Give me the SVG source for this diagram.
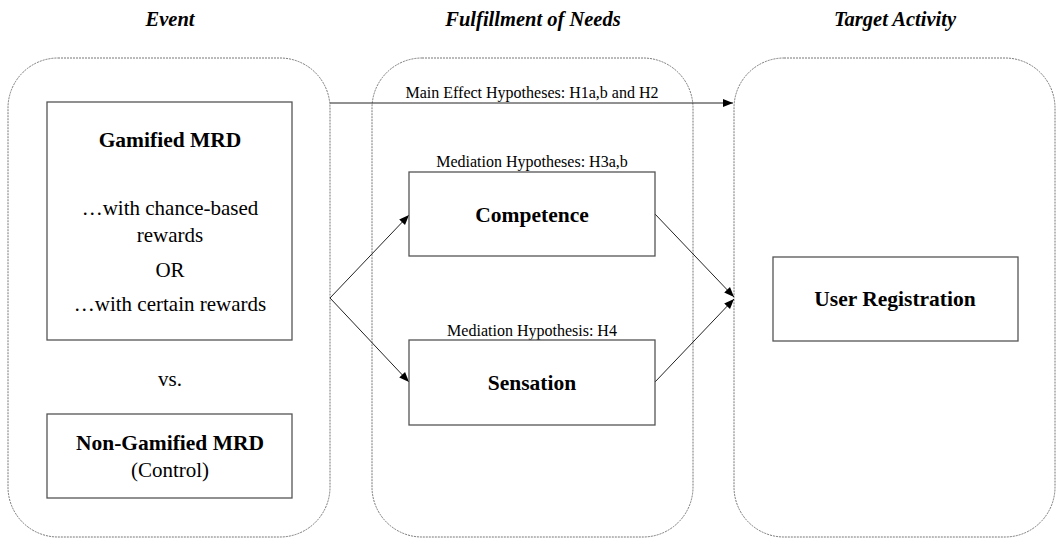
<svg xmlns="http://www.w3.org/2000/svg" width="1056" height="539" viewBox="0 0 1056 539">
<style>
.cont{fill:none;stroke:#777;stroke-width:1;stroke-dasharray:2 1}
.box{fill:#fff;stroke:#555;stroke-width:1.3}
.t{font-family:"Liberation Serif",serif;fill:#000;text-anchor:middle}
.h{font-weight:bold;font-style:italic;font-size:20.5px}
.b{font-weight:bold;font-size:21.5px}
.r{font-size:21px}
.s{font-size:16px}
.c{fill:none;stroke:#222;stroke-width:1}
</style>
<defs>
<marker id="ah" viewBox="0 0 10 10" refX="10" refY="5" markerWidth="10" markerHeight="10" markerUnits="userSpaceOnUse" orient="auto">
<path d="M0,1 L10,5 L0,9 z" fill="#000"/>
</marker>
</defs>
<g id="titles">
<text class="t h" x="170" y="26">Event</text>
<text class="t h" x="533" y="26">Fulfillment of Needs</text>
<text class="t h" x="895" y="26">Target Activity</text>
</g>
<g id="event-group">
<rect class="cont" x="8" y="58" width="322" height="479" rx="50" ry="50"/>
</g>
<g id="needs-group">
<rect class="cont" x="372" y="58" width="321" height="479" rx="50" ry="50"/>
</g>
<g id="target-group">
<rect class="cont" x="734" y="58" width="321" height="479" rx="50" ry="50"/>
</g>
<g id="connectors">
<line class="c" x1="330" y1="103" x2="733" y2="103" marker-end="url(#ah)"/>
<line class="c" x1="330" y1="298" x2="409" y2="215" marker-end="url(#ah)"/>
<line class="c" x1="330" y1="298" x2="409" y2="382" marker-end="url(#ah)"/>
<line class="c" x1="655" y1="214" x2="734" y2="297" marker-end="url(#ah)"/>
<line class="c" x1="655" y1="382" x2="734" y2="299" marker-end="url(#ah)"/>
<text class="t s" x="532" y="98">Main Effect Hypotheses: H1a,b and H2</text>
<text class="t s" x="532" y="167">Mediation Hypotheses: H3a,b</text>
<text class="t s" x="532" y="336">Mediation Hypothesis: H4</text>
</g>
<g id="gamified">
<rect class="box" x="47" y="102" width="245" height="238"/>
<text class="t b" x="170" y="147">Gamified MRD</text>
<text class="t r" x="170" y="215">…with chance-based</text>
<text class="t r" x="170" y="242">rewards</text>
<text class="t r" x="170" y="277">OR</text>
<text class="t r" x="170" y="311">…with certain rewards</text>
</g>
<g id="vs">
<text class="t r" x="170" y="386">vs.</text>
</g>
<g id="non-gamified">
<rect class="box" x="47" y="414" width="245" height="84"/>
<text class="t b" x="170" y="450">Non-Gamified MRD</text>
<text class="t r" x="170" y="477">(Control)</text>
</g>
<g id="competence">
<rect class="box" x="409" y="172" width="246" height="84"/>
<text class="t b" x="532" y="222">Competence</text>
</g>
<g id="sensation">
<rect class="box" x="409" y="340" width="246" height="85"/>
<text class="t b" x="532" y="390">Sensation</text>
</g>
<g id="user-registration">
<rect class="box" x="773" y="257" width="245" height="84"/>
<text class="t b" x="895" y="306">User Registration</text>
</g>
</svg>
